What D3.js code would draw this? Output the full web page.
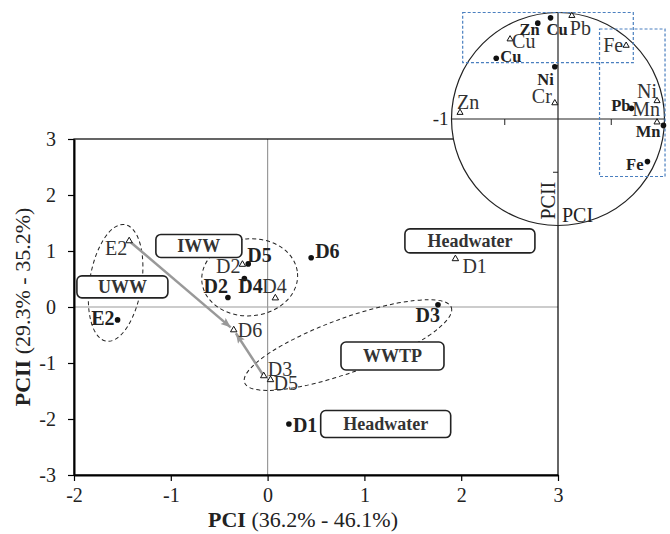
<!DOCTYPE html>
<html>
<head>
<meta charset="utf-8">
<script src="https://cdn.jsdelivr.net/npm/d3@7"></script>
<style>
  body { margin: 0; background: #fff; }
  svg { display: block; font-family: "Liberation Serif", "Times New Roman", serif; }
</style>
</head>
<body>
<div id="chart"></div>
<script>
// axis ticks
const X_TICKS = [-2, -1, 0, 1, 2, 3];
const Y_TICKS = [-3, -2, -1, 0, 1, 2, 3];

// sample scores, filled dots (bold labels)
const DOT_SITES = ["E2", "D2", "D4", "D5", "D6", "D3", "D1"];
const DOT_PC1 = [-1.55, -0.41, -0.24, -0.2, 0.45, 1.76, 0.22];
const DOT_PC2 = [-0.23, 0.17, 0.51, 0.77, 0.88, 0.04, -2.09];

// sample scores, open triangles
const TRI_SITES = ["E2", "D2", "D4", "D6", "D1", "D3", "D5"];
const TRI_PC1 = [-1.43, -0.26, 0.08, -0.35, 1.94, -0.04, 0.03];
const TRI_PC2 = [1.18, 0.76, 0.16, -0.41, 0.86, -1.23, -1.3];

// variable loadings (inset)
const DOT_VARS = ["Zn", "Cu", "Cu", "Ni", "Pb", "Mn", "Fe"];
const DOT_LOAD1 = [-0.19, -0.07, -0.58, -0.03, 0.69, 0.99, 0.84];
const DOT_LOAD2 = [0.9, 0.95, 0.57, 0.49, 0.1, -0.06, -0.4];
const TRI_VARS = ["Pb", "Cu", "Fe", "Zn", "Cr", "Ni", "Mn"];
const TRI_LOAD1 = [0.13, -0.45, 0.64, -0.92, -0.03, 0.93, 0.93];
const TRI_LOAD2 = [0.97, 0.75, 0.69, 0.06, 0.15, 0.17, -0.03];

// source boxes
const SOURCES = ["IWW", "UWW", "Headwater", "WWTP", "Headwater"];
const SOURCE_PC1 = [-0.71, -1.5, 2.09, 1.29, 1.22];
const SOURCE_PC2 = [1.09, 0.36, 1.18, -0.875, -2.09];

// movement arrows (triangle sites)
const ARROWS = [["E2", "D6"], ["D3", "D6"]];

// label placement [anchor, dx, dy]
const DOT_LABEL_POS = [["end", -3, 5], ["end", 0, -4], ["start", -6, 15], ["start", -1, -2], ["start", 4, 0], ["end", 2, 17], ["start", 4, 8]];
const TRI_LABEL_POS = [["end", -2, 14], ["end", -2, 9], ["start", -13, -5], ["start", 4, 7], ["start", 7, 14], ["start", 4, 0], ["start", 3, 10]];
const DOT_VAR_POS = [["end", 2, 12], ["start", -4, 17], ["start", 4, 4], ["end", -1, 18], ["end", -1, 3], ["end", -3, 12], ["end", -4, 8]];
const TRI_VAR_POS = [["start", -2, 19], ["start", 2, 9], ["end", -3, 6], ["start", -3, -4], ["end", -3, 0], ["end", 0, -3], ["end", 3, -6]];
const SOURCE_SIZE = [[86, 23], [91, 22], [130, 24], [103, 28], [130, 27]];

const W = 670, H = 534;
const margin = { top: 139, right: 112, bottom: 59, left: 74 };

const svg = d3.select("#chart").append("svg").attr("width", W).attr("height", H);

const x = d3.scaleLinear().domain([-2, 3]).range([margin.left, W - margin.right]);
const y = d3.scaleLinear().domain([-3, 3]).range([H - margin.bottom, margin.top]);

// zero lines
svg.append("line").attr("x1", x(-2)).attr("x2", x(3)).attr("y1", y(0)).attr("y2", y(0))
  .attr("stroke", "#9a9a9a").attr("stroke-width", 1.2);
svg.append("line").attr("x1", x(0)).attr("x2", x(0)).attr("y1", y(-3)).attr("y2", y(3))
  .attr("stroke", "#9a9a9a").attr("stroke-width", 1.2);

// frame
svg.append("rect").attr("x", x(-2)).attr("y", y(3)).attr("width", x(3) - x(-2)).attr("height", y(-3) - y(3))
  .attr("fill", "none").attr("stroke", "#000").attr("stroke-width", 1.2);

// axes
const xAxis = svg.append("g").attr("transform", `translate(0, ${y(-3)})`)
  .call(d3.axisBottom(x).tickValues(X_TICKS).tickSize(6).tickSizeOuter(0).tickPadding(7).tickFormat((d) => String(d)));
const yAxis = svg.append("g").attr("transform", `translate(${x(-2)}, 0)`)
  .call(d3.axisLeft(y).tickValues(Y_TICKS).tickSize(6).tickSizeOuter(0).tickPadding(12).tickFormat((d) => String(d)));
[xAxis, yAxis].forEach((g) => {
  g.attr("font-family", null).attr("font-size", null);
  g.select(".domain").attr("stroke-width", 2);
  g.selectAll(".tick line").attr("stroke-width", 1.2);
  g.selectAll("text").attr("font-size", 20).attr("fill", "#222");
});

// axis titles
const xTitle = svg.append("text").attr("x", (x(-2) + x(3)) / 2 - 13).attr("y", 527)
  .attr("text-anchor", "middle").attr("font-size", 22).attr("fill", "#222");
xTitle.append("tspan").attr("font-weight", "bold").text("PCI");
xTitle.append("tspan").text(" (36.2% - 46.1%)");

const yTitle = svg.append("text").attr("transform", "rotate(-90)")
  .attr("x", -(y(-3) + y(3)) / 2).attr("y", 30)
  .attr("text-anchor", "middle").attr("font-size", 22).attr("fill", "#222");
yTitle.append("tspan").attr("font-weight", "bold").text("PCII");
yTitle.append("tspan").text(" (29.3% - 35.2%)");

// dashed ellipses
const ellipses = [
  { cx: -1.57, cy: 0.43, rx: 26, ry: 59, rot: 9 },
  { cx: -0.185, cy: 0.53, rx: 48, ry: 38.5, rot: -5 },
  { cx: 0.83, cy: -0.68, rx: 110, ry: 27, rot: -20 },
];
svg.selectAll(".group-ellipse").data(ellipses).enter().append("ellipse")
  .attr("class", "group-ellipse")
  .attr("transform", (d) => `translate(${x(d.cx)}, ${y(d.cy)}) rotate(${d.rot})`)
  .attr("rx", (d) => d.rx).attr("ry", (d) => d.ry)
  .attr("fill", "none").attr("stroke", "#222").attr("stroke-width", 1).attr("stroke-dasharray", "4,3");

// arrows
const defs = svg.append("defs");
defs.append("marker").attr("id", "arrow-head").attr("viewBox", "0 0 10 8")
  .attr("refX", 10).attr("refY", 4).attr("markerWidth", 11).attr("markerHeight", 8)
  .attr("markerUnits", "userSpaceOnUse").attr("orient", "auto")
  .append("path").attr("d", "M0,0 L10,4 L0,8 L2,4 Z").attr("fill", "#999");

ARROWS.forEach(([from, to]) => {
  const i = TRI_SITES.indexOf(from), j = TRI_SITES.indexOf(to);
  const x1 = x(TRI_PC1[i]), y1 = y(TRI_PC2[i]);
  const x2 = x(TRI_PC1[j]), y2 = y(TRI_PC2[j]);
  const len = Math.hypot(x2 - x1, y2 - y1);
  const ux = (x2 - x1) / len, uy = (y2 - y1) / len;
  svg.append("line")
    .attr("x1", x1 + ux * 2).attr("y1", y1 + uy * 2)
    .attr("x2", x2 - ux * 4).attr("y2", y2 - uy * 4)
    .attr("stroke", "#999").attr("stroke-width", 2.5)
    .attr("marker-end", "url(#arrow-head)");
});

// source boxes
SOURCES.forEach((name, i) => {
  const [bw, bh] = SOURCE_SIZE[i];
  const cx = x(SOURCE_PC1[i]), cy = y(SOURCE_PC2[i]);
  svg.append("rect").attr("x", cx - bw / 2).attr("y", cy - bh / 2).attr("width", bw).attr("height", bh)
    .attr("rx", 5).attr("fill", "#fff").attr("stroke", "#222").attr("stroke-width", 1.6);
  svg.append("text").attr("x", cx).attr("y", cy + 6).attr("text-anchor", "middle")
    .attr("font-size", 18).attr("font-weight", "bold").attr("fill", "#333").text(name);
});

const triangle = d3.symbol().type(d3.symbolTriangle);

// score markers
TRI_SITES.forEach((name, i) => {
  const px = x(TRI_PC1[i]), py = y(TRI_PC2[i]);
  const [anchor, dx, dy] = TRI_LABEL_POS[i];
  svg.append("path").attr("d", triangle.size(18)()).attr("transform", `translate(${px}, ${py})`)
    .attr("fill", "#fff").attr("stroke", "#111").attr("stroke-width", 1);
  svg.append("text").attr("x", px + dx).attr("y", py + dy).attr("text-anchor", anchor)
    .attr("font-size", 20).attr("fill", "#333").text(name);
});
DOT_SITES.forEach((name, i) => {
  const px = x(DOT_PC1[i]), py = y(DOT_PC2[i]);
  const [anchor, dx, dy] = DOT_LABEL_POS[i];
  svg.append("circle").attr("cx", px).attr("cy", py).attr("r", 2.8).attr("fill", "#111");
  svg.append("text").attr("x", px + dx).attr("y", py + dy).attr("text-anchor", anchor)
    .attr("font-size", 20).attr("font-weight", "bold").attr("fill", "#222").text(name);
});

// inset: correlation circle
const inset = { cx: 558, cy: 119, r: 106.5 };
const lx = d3.scaleLinear().domain([-1, 1]).range([inset.cx - inset.r, inset.cx + inset.r]);
const ly = d3.scaleLinear().domain([-1, 1]).range([inset.cy + inset.r, inset.cy - inset.r]);
const ins = svg.append("g");

ins.append("circle").attr("cx", inset.cx).attr("cy", inset.cy).attr("r", inset.r)
  .attr("fill", "#fff").attr("stroke", "#222").attr("stroke-width", 1.2);
ins.append("line").attr("x1", lx(-1)).attr("x2", lx(1)).attr("y1", ly(0)).attr("y2", ly(0))
  .attr("stroke", "#222").attr("stroke-width", 1.2);
ins.append("line").attr("x1", lx(0)).attr("x2", lx(0)).attr("y1", ly(1)).attr("y2", ly(-1))
  .attr("stroke", "#222").attr("stroke-width", 1.2);
[-0.5, 0.5].forEach((t) => {
  ins.append("line").attr("x1", lx(t)).attr("x2", lx(t)).attr("y1", ly(0)).attr("y2", ly(0) + 6)
    .attr("stroke", "#222").attr("stroke-width", 1);
  ins.append("line").attr("x1", lx(0) - 5).attr("x2", lx(0)).attr("y1", ly(t)).attr("y2", ly(t))
    .attr("stroke", "#222").attr("stroke-width", 1);
});
ins.append("text").attr("x", lx(-1) - 3).attr("y", ly(0) + 6).attr("text-anchor", "end")
  .attr("font-size", 19).attr("fill", "#222").text("-1");
ins.append("text").attr("transform", `translate(${lx(0) - 3}, ${ly(-1) - 6}) rotate(-90)`)
  .attr("font-size", 20).attr("fill", "#222").text("PCII");
ins.append("text").attr("x", lx(0) + 4).attr("y", ly(-1) - 4)
  .attr("font-size", 20).attr("fill", "#222").text("PCI");

// highlighted loading groups
const boxes = [
  { x0: -0.895, x1: 0.707, y0: 1.0, y1: 0.53 },
  { x0: 0.39, x1: 1.005, y0: 0.845, y1: -0.54 },
];
ins.selectAll(".load-box").data(boxes).enter().append("rect")
  .attr("class", "load-box")
  .attr("x", (d) => lx(d.x0)).attr("y", (d) => ly(d.y0))
  .attr("width", (d) => lx(d.x1) - lx(d.x0)).attr("height", (d) => ly(d.y1) - ly(d.y0))
  .attr("fill", "none").attr("stroke", "#4a7fbf").attr("stroke-width", 1.2).attr("stroke-dasharray", "3,2");

TRI_VARS.forEach((name, i) => {
  const px = lx(TRI_LOAD1[i]), py = ly(TRI_LOAD2[i]);
  const [anchor, dx, dy] = TRI_VAR_POS[i];
  ins.append("path").attr("d", triangle.size(16)()).attr("transform", `translate(${px}, ${py})`)
    .attr("fill", "#fff").attr("stroke", "#111").attr("stroke-width", 1);
  ins.append("text").attr("x", px + dx).attr("y", py + dy).attr("text-anchor", anchor)
    .attr("font-size", 20).attr("fill", "#333").text(name);
});
DOT_VARS.forEach((name, i) => {
  const px = lx(DOT_LOAD1[i]), py = ly(DOT_LOAD2[i]);
  const [anchor, dx, dy] = DOT_VAR_POS[i];
  ins.append("circle").attr("cx", px).attr("cy", py).attr("r", 2.8).attr("fill", "#111");
  ins.append("text").attr("x", px + dx).attr("y", py + dy).attr("text-anchor", anchor)
    .attr("font-size", 16.5).attr("font-weight", "bold").attr("fill", "#222").text(name);
});
</script>
</body>
</html>
